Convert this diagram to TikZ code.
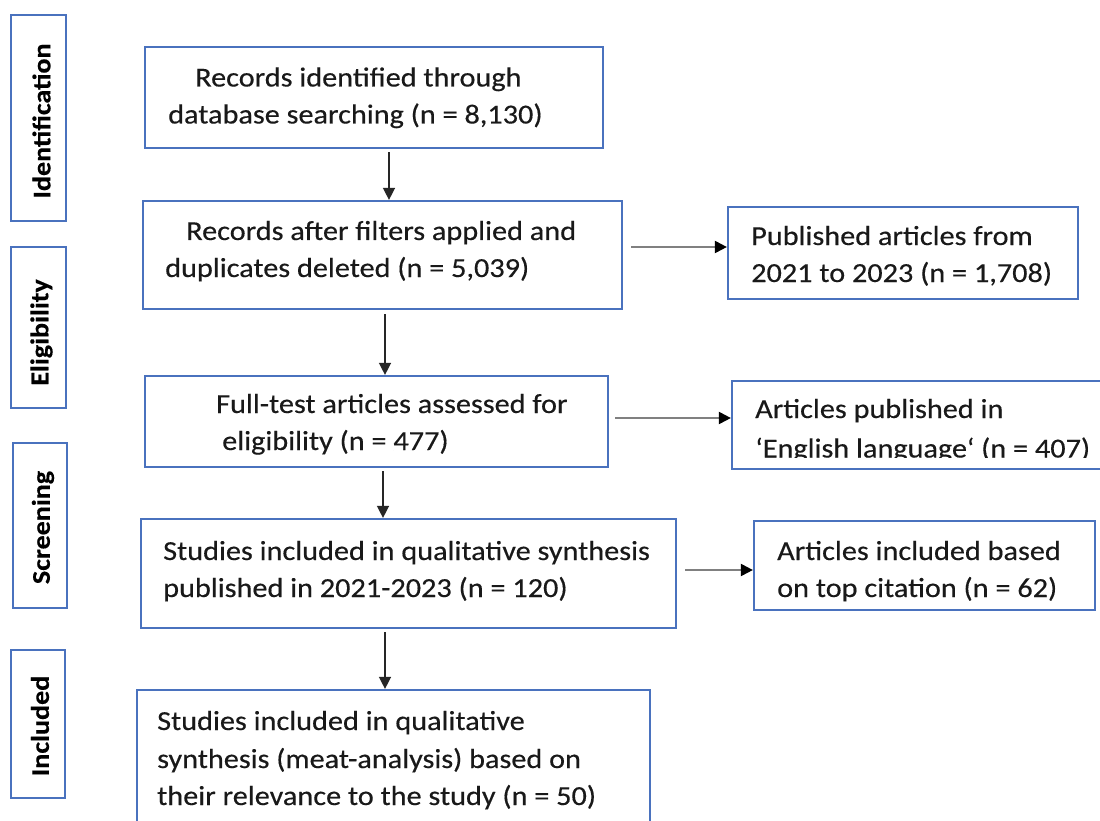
\documentclass[tikz,border=0pt]{standalone}
\usepackage{fontspec}
\setmainfont{Carlito}[FakeStretch=1.1,FakeBold=0.35]
\usetikzlibrary{arrows.meta}
\definecolor{boxblue}{RGB}{74,114,190}
\definecolor{txt}{RGB}{25,25,25}
\begin{document}
\begin{tikzpicture}[x=1pt,y=-1pt,
  box/.style={draw=boxblue,line width=2.2pt,inner sep=0pt,fill=white},
  side/.style={box},
  lbl/.style={anchor=base west,inner sep=0pt,text=txt,font=\fontsize{27.5}{32}\selectfont},
  sidelbl/.style={rotate=90,inner sep=0pt,text=black,font=\bfseries\fontsize{25.5}{28}\selectfont},
  varr/.style={draw=black!85,line width=1.4pt,-{Triangle[length=12pt,width=12pt]}},
  harr/.style={draw=black!50,line width=2pt,-{Triangle[length=12pt,width=12pt,black]}}]
\useasboundingbox (0,0) rectangle (1100,821);
\clip (0,0) rectangle (1100,821);
\fill[white] (0,0) rectangle (1100,821);

% side phase boxes
\node[side,minimum width=55pt,minimum height=206pt] (s1) at (38.5,118) {};
\node[side,minimum width=55pt,minimum height=161pt] (s2) at (38.5,327.5) {};
\node[side,minimum width=54pt,minimum height=165pt] (s3) at (40,525.5) {};
\node[side,minimum width=54pt,minimum height=148pt] (s4) at (38,724) {};
\node[sidelbl] (t1) at ([xshift=3pt,yshift=-3pt]s1.center) {Identification};
\node[sidelbl] (t2) at ([xshift=3pt,yshift=-5pt]s2.center) {Eligibility};
\node[sidelbl] (t3) at ([xshift=3pt,yshift=-2pt]s3.center) {Screening};
\node[sidelbl] (t4) at ([xshift=2pt,yshift=-2pt]s4.center) {Included};

% main boxes
\node[box,minimum width=458pt,minimum height=101pt] (b1) at (374,97.5) {};
\node[box,minimum width=479pt,minimum height=108pt] (b2) at (382.5,255) {};
\node[box,minimum width=350pt,minimum height=92pt] (r1) at (903,253) {};
\node[box,minimum width=463pt,minimum height=91pt] (b3) at (376.5,421.5) {};
\node[box,minimum width=378pt,minimum height=88pt] (r2) at (921,425) {};
\node[box,minimum width=535pt,minimum height=109pt] (b4) at (408.5,573.5) {};
\node[box,minimum width=341pt,minimum height=89pt] (r3) at (924.5,565.5) {};
\node[box,minimum width=513pt,minimum height=150pt] (b5) at (393.5,765) {};

% texts
\node[lbl] (b1a) at (195,86.5) {Records identified through};
\node[lbl] (b1b) at (168,123.5) {database searching (n = 8,130)};
\node[lbl] (b2a) at (186,240) {Records after filters applied and};
\node[lbl] (b2b) at (165,277) {duplicates deleted (n = 5,039)};
\node[lbl] (r1a) at (751,245) {Published articles from};
\node[lbl] (r1b) at (751,282) {2021 to 2023 (n = 1,708)};
\node[lbl] (b3a) at (216,413) {Full-test articles assessed for};
\node[lbl] (b3b) at (222,450) {eligibility (n = 477)};
\node[lbl] (r2a) at (755,418) {Articles published in};
\begin{scope}
\clip (735,430) rectangle (1100,457);
\node[lbl] (r2b) at (755,457.5) {‘English language‘ (n = 407)};
\end{scope}
\node[lbl] (b4a) at (163,560) {Studies included in qualitative synthesis};
\node[lbl] (b4b) at (163,597) {published in 2021-2023 (n = 120)};
\node[lbl] (r3a) at (777,560) {Articles included based};
\node[lbl] (r3b) at (777,597) {on top citation (n = 62)};
\node[lbl] (b5a) at (157,730) {Studies included in qualitative};
\node[lbl] (b5b) at (157,768) {synthesis (meat-analysis) based on};
\node[lbl] (b5c) at (157,805) {their relevance to the study (n = 50)};

% vertical arrows
\draw[varr] ([xshift=15pt,yshift=-3pt]b1.south) -- ([xshift=15pt]b1.south |- b2.north);
\draw[varr] ([xshift=2.5pt,yshift=-4pt]b2.south) -- ([xshift=2.5pt]b2.south |- b3.north);
\draw[varr] ([xshift=6.5pt,yshift=-3pt]b3.south) -- ([xshift=6.5pt]b3.south |- b4.north);
\draw[varr] ([xshift=-23.5pt,yshift=-3pt]b4.south) -- ([xshift=-23.5pt]b4.south |- b5.north);

% horizontal arrows
\coordinate (h1) at ([shift={(8pt,8pt)}]b2.east);
\coordinate (h2) at ([shift={(6pt,3.5pt)}]b3.east);
\coordinate (h3) at ([shift={(8pt,3.5pt)}]b4.east);
\draw[harr] (h1) -- (h1 -| r1.west);
\draw[harr] (h2) -- (h2 -| r2.west);
\draw[harr] (h3) -- (h3 -| r3.west);
\end{tikzpicture}
\end{document}
